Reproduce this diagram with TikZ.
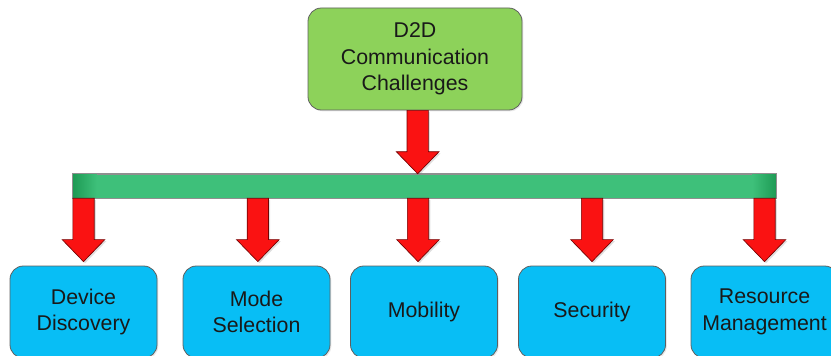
\documentclass[tikz,border=0pt]{standalone}
\usepackage{fontspec}
\setmainfont{Liberation Sans}
\usetikzlibrary{calc,shadows}
\definecolor{topgreen}{RGB}{141,210,90}
\definecolor{bargreen}{RGB}{62,192,122}
\definecolor{bardark}{RGB}{30,155,85}
\definecolor{boxblue}{RGB}{8,190,245}
\definecolor{arrowred}{RGB}{250,18,18}
\definecolor{edgegray}{RGB}{95,95,95}
\definecolor{textdark}{RGB}{25,25,25}

\tikzset{
  basebox/.style={draw=edgegray, line width=0.6pt, rounded corners=10pt,
    align=center, font=\fontsize{16}{20}\selectfont, text=textdark,
    inner sep=0pt,
    drop shadow={opacity=0.18, shadow xshift=1pt, shadow yshift=-1pt}},
  rootbox/.style={basebox, fill=topgreen, minimum width=160.5pt, minimum height=76.5pt},
  leafbox/.style={basebox, fill=boxblue, minimum width=110.25pt, minimum height=69pt},
  barbox/.style={draw=edgegray!70, line width=0.4pt, fill=bargreen,
    minimum width=527.25pt, minimum height=18pt, inner sep=0pt},
  redarrow/.style={fill=arrowred, draw=red!45!black, line width=0.5pt, line join=miter,
    drop shadow={opacity=0.25, shadow xshift=1.2pt, shadow yshift=-1.2pt}}
}

% block arrow: shaft starts at the height of #1, tip lies #3 above #2, shifted by #4
\newcommand\blockarrow[4]{%
  \path[redarrow] let \p1=(#1), \p2=(#2) in
    (\x2+#4-8pt,\y1) -- (\x2+#4-8pt,\y2+#3+16.5pt) -- (\x2+#4-16pt,\y2+#3+16.5pt) --
    (\x2+#4,\y2+#3) -- (\x2+#4+16pt,\y2+#3+16.5pt) -- (\x2+#4+8pt,\y2+#3+16.5pt) --
    (\x2+#4+8pt,\y1) -- cycle;}

\begin{document}
\begin{tikzpicture}[x=0.75pt, y=-0.75pt]
  \useasboundingbox (0,0) rectangle (831,356);
  \clip (0,0) rectangle (831,356);

  % root
  \node[rootbox] (root) at (415,59) {D2D\\Communication\\Challenges};

  % distribution bar with darker ends
  \node[barbox] (bar) at (424.5,186) {};
  \shade[left color=bardark, right color=bargreen]
    ($(bar.south west)+(0.3pt,-0.3pt)$) rectangle ($(bar.north west)+(18pt,0.3pt)$);
  \shade[left color=bargreen, right color=bardark]
    ($(bar.south east)+(-18pt,-0.3pt)$) rectangle ($(bar.north east)+(-0.3pt,0.3pt)$);
  \draw[draw=edgegray!70, line width=0.4pt] (bar.south west) rectangle (bar.north east);

  % leaves
  \node[leafbox] (dev) at (83.5,312)  {Device\\Discovery};
  \node[leafbox] (mode) at (256.5,312) {Mode\\Selection};
  \node[leafbox] (mob) at (424,312)  {Mobility};
  \node[leafbox] (sec) at (592,312)  {Security};
  \node[leafbox] (res) at (764.5,312) {Resource\\Management};

  % arrows
  \blockarrow{root.south}{bar.north -| root.south}{0pt}{2pt}
  \foreach \leaf/\dx in {dev/0pt,mode/1pt,mob/-4.5pt,sec/0pt,res/0pt}{
    \blockarrow{bar.south}{\leaf.north}{3pt}{\dx}
  }
\end{tikzpicture}
\end{document}
